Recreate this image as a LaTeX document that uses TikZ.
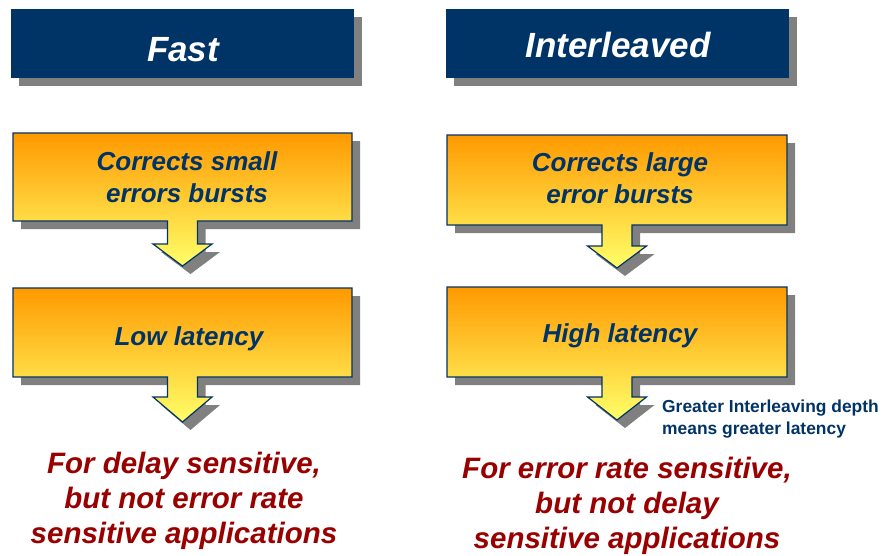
\documentclass[tikz,border=0pt]{standalone}
\usepackage{fontspec}
\setmainfont{Liberation Sans}
\definecolor{navy}{RGB}{0,51,102}
\definecolor{shadowgray}{RGB}{128,128,128}
\definecolor{darkred}{RGB}{153,0,0}
\definecolor{boxorange}{RGB}{255,153,0}
\definecolor{boxyellow}{RGB}{255,255,105}
% callout path: #1 x-left, #2 x-right, #3 y-top, #4 y-bottom, #5 stem end, #6 tip
\newcommand\calloutpath[6]{(#1,#3) -- (#2,#3) -- (#2,#4) -- ({(#1+#2)/2+15},#4) -- ({(#1+#2)/2+15},#5) -- ({(#1+#2)/2+29.5},#5) -- ({(#1+#2)/2},#6) -- ({(#1+#2)/2-29.5},#5) -- ({(#1+#2)/2-15},#5) -- ({(#1+#2)/2-15},#4) -- (#1,#4) -- cycle}
\newcommand\mycallout[6]{%
  \fill[shadowgray, shift={(8,8)}] \calloutpath{#1}{#2}{#3}{#4}{#5}{#6};
  \shade[top color=boxorange, bottom color=boxyellow, draw=navy, line width=1.2pt, line join=miter] \calloutpath{#1}{#2}{#3}{#4}{#5}{#6};
}
\tikzset{
  headerbox/.style={fill=navy},
  headershadow/.style={fill=shadowgray},
  headertext/.style={anchor=base, text=white, inner sep=0pt, font=\fontsize{35}{42}\selectfont\bfseries\itshape},
  boxtext/.style={anchor=base, text=navy, inner sep=0pt, align=center, font=\fontsize{26}{32}\selectfont\bfseries\itshape},
  usetext/.style={anchor=base, text=darkred, inner sep=0pt, align=center, font=\fontsize{29.5}{35}\selectfont\bfseries\itshape},
  notetext/.style={anchor=base west, text=navy, inner sep=0pt, align=left, font=\fontsize{17.4}{22}\selectfont\bfseries}
}
\begin{document}
\begin{tikzpicture}[x=1pt, y=-1pt]
\useasboundingbox (0,0) rectangle (885,555);
% headers
\fill[headershadow] (19,17) rectangle (362,86);
\fill[headerbox] (11,9) rectangle (354,78);
\fill[headershadow] (454,17) rectangle (797,86);
\fill[headerbox] (446,9) rectangle (789,78);
\node[headertext] (fast) at (183,61) {Fast};
\node[headertext] (inter) at (618,57) {Interleaved};
% callouts
\mycallout{13}{352}{133}{221}{244}{266}
\mycallout{13}{352}{288}{377}{397}{422}
\mycallout{447}{787}{135}{225}{246}{268}
\mycallout{447}{787}{287}{377}{397}{420}
% box texts (anchor base = last line's baseline)
\node[boxtext] (l1) at (187,202) {Corrects small\\errors bursts};
\node[boxtext] (l2) at (189,345) {Low latency};
\node[boxtext] (r1) at (620,203) {Corrects large\\error bursts};
\node[boxtext] (r2) at (620,342) {High latency};
% note
\node[notetext] (note) at (662,434) {Greater Interleaving depth\\means greater latency};
% bottom texts
\node[usetext] (lu) at (184,543) {For delay sensitive,\\but not error rate\\sensitive applications};
\node[usetext] (ru) at (627,548) {For error rate sensitive,\\but not delay\\sensitive applications};
\end{tikzpicture}
\end{document}
